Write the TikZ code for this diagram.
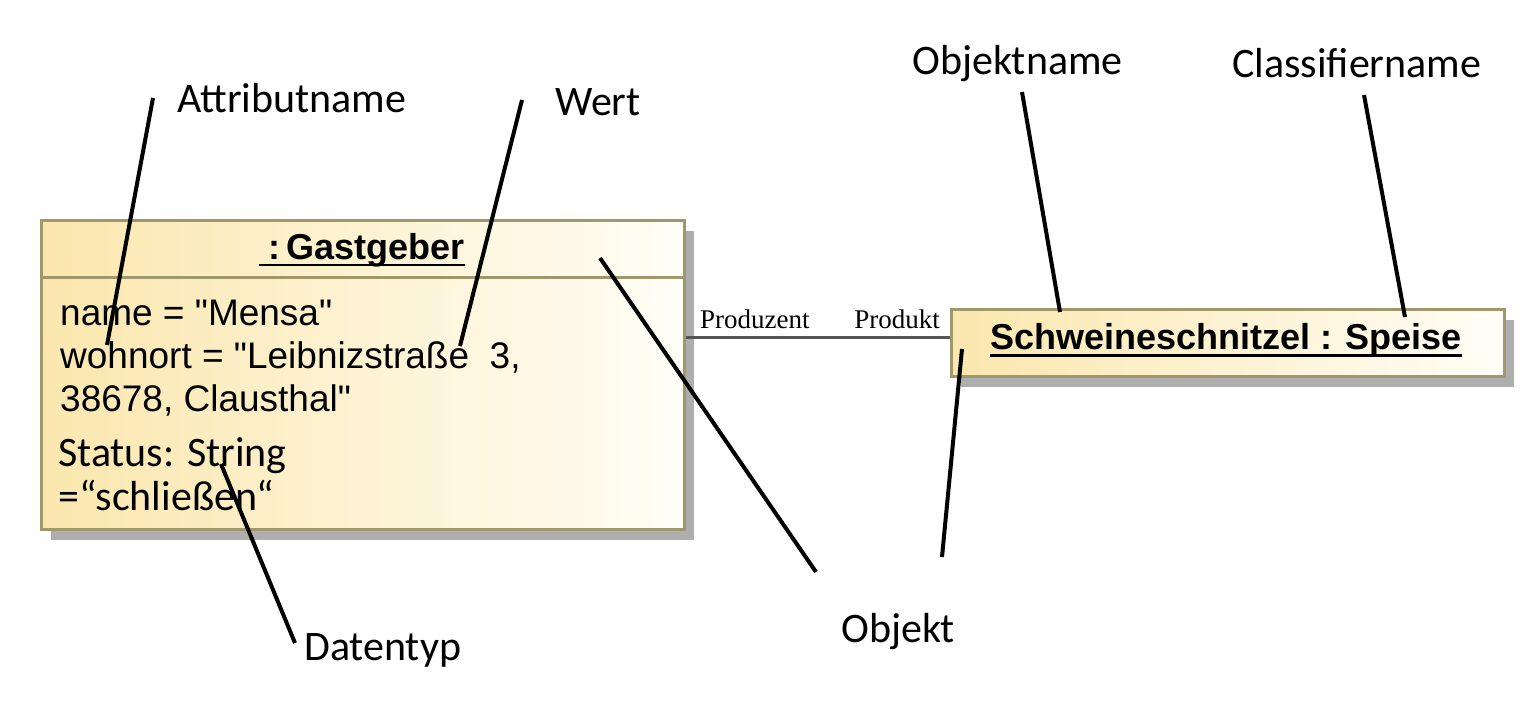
\documentclass[tikz,border=0pt]{standalone}
\usepackage{fontspec}
\setmainfont{Liberation Sans}
\newfontfamily\calibri{Carlito}
\newfontfamily\timesf{Liberation Serif}
\usetikzlibrary{positioning, shadows}

\definecolor{objfill}{HTML}{FBE7AE}
\definecolor{objlight}{HTML}{FFFEF7}
\definecolor{objborder}{HTML}{A0976A}
\definecolor{shadowgray}{HTML}{AEAEAE}
\definecolor{assocgray}{HTML}{555555}

\begin{document}
\begin{tikzpicture}[x=1pt, y=-1pt,
  objbox/.style = {draw=objborder, line width=3pt, left color=objfill, right color=objlight,
    drop shadow={shadow xshift=9pt, shadow yshift=-10pt, fill=shadowgray, opacity=1},
    anchor=north west, inner sep=0pt},
  head/.style = {font=\fontsize{36}{40}\selectfont\bfseries, inner sep=0pt},
  attr/.style = {font=\fontsize{37}{43}\selectfont, align=left, inner sep=0pt, anchor=base west},
  typ/.style = {font=\calibri\fontsize{42}{44}\selectfont, align=left, inner sep=0pt, anchor=base west},
  note/.style = {font=\calibri\fontsize{42}{48}\selectfont, inner sep=0pt, anchor=base west},
  role/.style = {font=\timesf\fontsize{27}{30}\selectfont, inner sep=0pt},
  pointer/.style = {line width=4pt},
  assoc/.style = {draw=assocgray, line width=3pt}]
\useasboundingbox (0,0) rectangle (1536,714);

% objects
\node[objbox, minimum width=643, minimum height=309] (gast) at (40,219) {};
\node[objbox, minimum width=553, minimum height=67] (speise) at (950,308) {};
\draw[draw=objborder, line width=3pt] (gast.west |- 0,277) -- (gast.east |- 0,277);

\node[head] (gasthead) at (362,250) {~:\,Gastgeber};
\node[head] (speisehead) at (1226,340) {Schweineschnitzel : Speise};
\draw[line width=2.5pt] ([yshift=-6pt]gasthead.base west) -- ([yshift=-6pt]gasthead.base east);
\draw[line width=2.5pt] ([yshift=-6pt]speisehead.base west) -- ([yshift=-6pt]speisehead.base east);

% base is the last line
\node[attr] (attrs) at (60,411) {name = \textquotedbl Mensa\textquotedbl\\wohnort = \textquotedbl Leibnizstraße\ \ 3,\\38678, Clausthal\textquotedbl};
\node[typ] (status) at (58,510) {Status: String\\=“schließen“};

% link
\coordinate (assocL) at (gast.east |- 0,337);
\coordinate (assocR) at (speise.west |- 0,337);
\draw[assoc] (assocL) -- (assocR);
\node[role, above right=8pt and 14pt of assocL] (produzent) {Produzent};
\node[role, above left=8pt and 10pt of assocR] (produkt) {Produkt};

% notes
\node[note] (attrlbl) at (177,113) {Attributname};
\node[note] (wertlbl) at (555,116) {Wert};
\node[note] (objnamelbl) at (912,75) {Objektname};
\node[note] (classlbl) at (1232,78) {Classifiername};
\node[note] (typlbl) at (304,660) {Datentyp};
\node[note] (objlbl) at (841,642) {Objekt};

\coordinate (attrtop) at (153,98);   \coordinate (attrtip) at (107,345);
\coordinate (werttop) at (522,100);  \coordinate (werttip) at (460,346);
\coordinate (nametop) at (1022,92);  \coordinate (nametip) at (1060,312);
\coordinate (classtop) at (1364,95); \coordinate (classtip) at (1405,317);
\coordinate (typend) at (295,643);   \coordinate (typtip) at (221,464);
\coordinate (objend) at (816,572);   \coordinate (objtip) at (600,258);
\coordinate (objend2) at (942,557);  \coordinate (objtip2) at (962,349);

\draw[pointer] (attrtop) -- (attrtip);
\draw[pointer] (werttop) -- (werttip);
\draw[pointer] (nametop) -- (nametip);
\draw[pointer] (classtop) -- (classtip);
\draw[pointer] (typend) -- (typtip);
\draw[pointer] (objend) -- (objtip);
\draw[pointer] (objend2) -- (objtip2);
\end{tikzpicture}
\end{document}
